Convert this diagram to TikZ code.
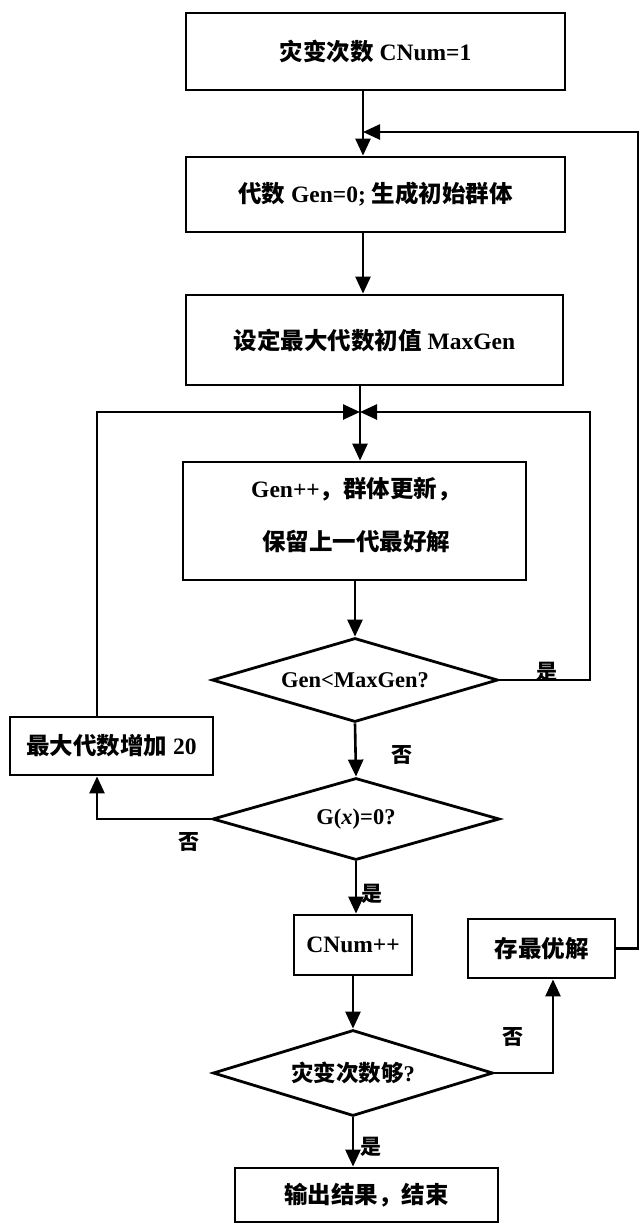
\documentclass[tikz,border=0pt]{standalone}
\usepackage{fontspec}
\setmainfont{Liberation Serif}
\newfontfamily\cjkf{Noto Sans CJK SC}
\usetikzlibrary{arrows.meta,shapes.geometric}
\newcommand\fsz{\fontsize{23.5}{28}\selectfont}
\newcommand\dsz{\fontsize{22.5}{28}\selectfont}
\newcommand\lsz{\fontsize{21}{24}\selectfont}
\begin{document}
\begin{tikzpicture}[x=1pt,y=-1pt,
  box/.style={draw, rectangle, line width=2.8pt, inner sep=0pt, font=\fsz\bfseries, align=center},
  txt/.style={inner sep=0pt, font=\fsz\bfseries, align=center},
  dia/.style={draw, diamond, line width=2.8pt, inner sep=0pt, font=\dsz\bfseries},
  arr/.style={line width=2.6pt, -{Triangle[length=17pt,width=15pt]}},
  lbl/.style={font=\lsz\cjkf\bfseries, inner sep=0pt}]
\useasboundingbox (0,0) rectangle (642,1224);
\fill[white] (0,0) rectangle (642,1224);
% axes
\coordinate (xa) at (363,0);
\coordinate (J) at (360,412);
\coordinate (rx) at (590,0);
\coordinate (lx) at (97,0);
\coordinate (ux) at (553,0);
\coordinate (fb) at (638,132);
% boxes
\node[box, minimum width=379pt, minimum height=77pt] (b1) at (375.5,51.5) {{\cjkf 灾变次数} CNum=1};
\node[box, minimum width=379pt, minimum height=75pt] (b2) at (375.5,194.5) {{\cjkf 代数} Gen=0;\ {\cjkf 生成初始群体}};
\node[box, minimum width=377pt, minimum height=90pt] (b3) at (374.5,340) {{\cjkf 设定最大代数初值} MaxGen};
\node[box, minimum width=343pt, minimum height=118pt] (b4) at (354.5,521) {};
\node[txt] (t4a) at (356,489) {Gen++{\cjkf ，群体更新，}};
\node[txt] (t4b) at (356,541) {\cjkf 保留上一代最好解};
\node[dia, aspect=3.4, minimum width=286pt, minimum height=84pt] (d1) at (355,680) {Gen<MaxGen?};
\node[dia, aspect=3.5, minimum width=287pt, minimum height=82pt] (d2) at (356,819) {G({\itshape x})=0?};
\node[box, minimum width=203pt, minimum height=58pt] (b5) at (111.5,746) {{\cjkf 最大代数增加} 20};
\node[box, minimum width=118pt, minimum height=60pt] (b6) at (353,945) {CNum++};
\node[box, minimum width=147pt, minimum height=59pt] (b7) at (541.5,948.5) {\cjkf 存最优解};
\node[dia, aspect=3.25, minimum width=280pt, minimum height=86pt] (d3) at (353,1073) {{\cjkf 灾变次数够}?};
\node[box, minimum width=263pt, minimum height=54pt] (b8) at (366.5,1195) {\cjkf 输出结果，结束};
% connectors
\draw[arr] (b1.south -| xa) -- (b2.north -| xa);
\draw[arr] (b7.east) -- (b7.east -| fb) -- (fb) -- (fb -| xa);
\draw[arr] (b2.south -| xa) -- (b3.north -| xa);
\draw[arr] (b3.south -| J) -- (b4.north -| J);
\draw[arr] (d1.east) -- (d1.east -| rx) -- (J -| rx) -- (J);
\draw[arr] (b5.north -| lx) -- (J -| lx) -- (J);
\draw[arr] (b4.south -| d1.north) -- (d1.north);
\draw[arr] (d1.south) -- (d2.north);
\draw[arr] (d2.west) -- (d2.west -| lx) -- (b5.south -| lx);
\draw[arr] (d2.south) -- (b6.north -| d2.south);
\draw[arr] (b6.south) -- (d3.north);
\draw[arr] (d3.east) -- (d3.east -| ux) -- (b7.south -| ux);
\draw[arr] (d3.south) -- (b8.north -| d3.south);
% labels
\node[lbl] (l1) at (547,672) {是};
\node[lbl] (l2) at (402,755) {否};
\node[lbl] (l3) at (189,842) {否};
\node[lbl] (l4) at (372,894) {是};
\node[lbl] (l5) at (513,1037) {否};
\node[lbl] (l6) at (371,1147) {是};
\end{tikzpicture}
\end{document}
